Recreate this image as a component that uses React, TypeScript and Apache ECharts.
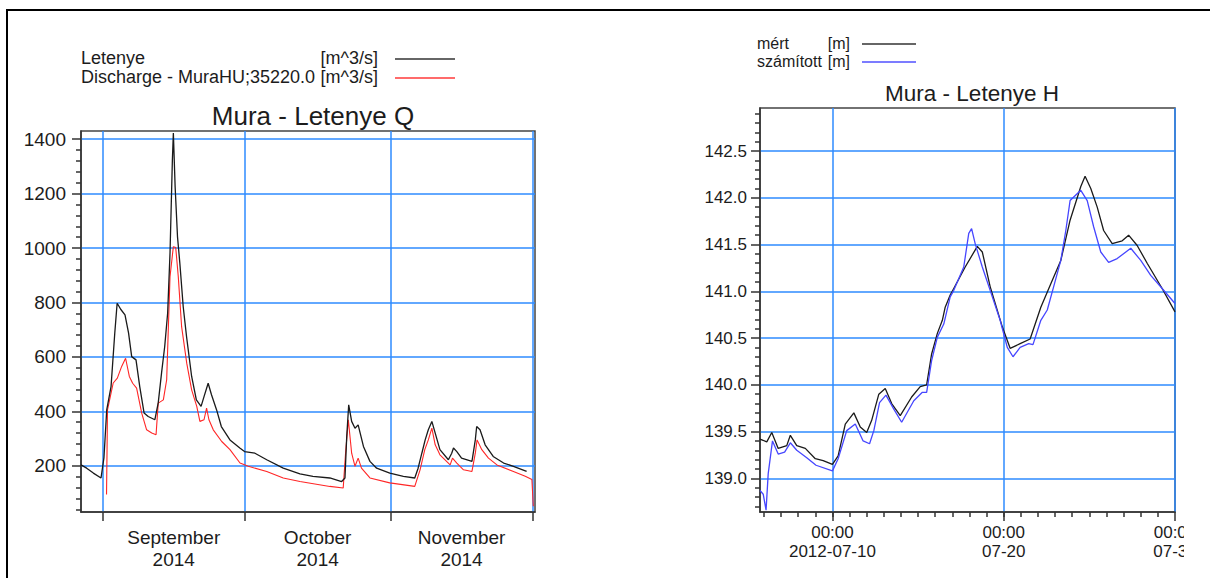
import React, { useEffect, useRef } from 'react';
import * as echarts from 'echarts';

// ---------- Left chart: Mura - Letenye Q ----------
const qRange = ['2014-08-27 08:10', '2014-12-01 13:40'];
const qMonthBounds = ['2014-09-01 00:00', '2014-10-01 00:00', '2014-11-01 00:00', '2014-12-01 00:00'];
const qMonthMids = ['2014-09-16 00:00', '2014-10-16 12:00', '2014-11-16 00:00'];
const qMonthNames = ['September', 'October', 'November'];
const qYear = '2014';
const qMajorTicks = [200, 400, 600, 800, 1000, 1200, 1400];

const qLetenye: [string, number][] = [
  ['2014-08-27 08:10', 203], ['2014-08-28 13:00', 191], ['2014-08-29 23:00', 173], ['2014-08-31 14:00', 155],
  ['2014-09-01 05:00', 230], ['2014-09-01 19:00', 405], ['2014-09-02 17:00', 491], ['2014-09-03 12:00', 688],
  ['2014-09-04 00:00', 797], ['2014-09-04 10:00', 785], ['2014-09-04 18:00', 775], ['2014-09-05 16:00', 754],
  ['2014-09-06 10:00', 688], ['2014-09-07 02:00', 601], ['2014-09-08 00:00', 589], ['2014-09-08 19:00', 491],
  ['2014-09-09 17:00', 394], ['2014-09-10 14:00', 381], ['2014-09-12 00:00', 369], ['2014-09-12 17:00', 431],
  ['2014-09-13 10:00', 541], ['2014-09-14 02:00', 638], ['2014-09-14 17:00', 761], ['2014-09-15 05:00', 982],
  ['2014-09-15 17:00', 1323], ['2014-09-15 22:00', 1423], ['2014-09-16 07:00', 1225], ['2014-09-16 19:00', 1042],
  ['2014-09-17 07:00', 944], ['2014-09-18 00:00', 785], ['2014-09-18 17:00', 675], ['2014-09-19 19:00', 528],
  ['2014-09-20 19:00', 442], ['2014-09-21 19:00', 418], ['2014-09-22 10:00', 454], ['2014-09-23 07:00', 503],
  ['2014-09-24 00:00', 461], ['2014-09-25 02:00', 405], ['2014-09-26 02:00', 344], ['2014-09-27 22:00', 295],
  ['2014-09-30 00:00', 265], ['2014-10-01 00:00', 252], ['2014-10-03 05:00', 246], ['2014-10-05 17:00', 222],
  ['2014-10-09 05:00', 191], ['2014-10-12 18:00', 170], ['2014-10-15 12:00', 161], ['2014-10-19 02:00', 155],
  ['2014-10-21 14:00', 142], ['2014-10-22 07:00', 155], ['2014-10-22 16:00', 308], ['2014-10-23 02:00', 424],
  ['2014-10-23 17:00', 363], ['2014-10-24 10:00', 338], ['2014-10-25 02:00', 350], ['2014-10-26 05:00', 271],
  ['2014-10-27 14:00', 216], ['2014-10-29 00:00', 191], ['2014-10-31 19:00', 173], ['2014-11-03 16:00', 161],
  ['2014-11-06 02:00', 155], ['2014-11-06 19:00', 191], ['2014-11-07 14:00', 246], ['2014-11-08 07:00', 295],
  ['2014-11-08 23:00', 332], ['2014-11-09 17:00', 363], ['2014-11-10 10:00', 320], ['2014-11-11 10:00', 259],
  ['2014-11-13 05:00', 222], ['2014-11-13 22:00', 246], ['2014-11-14 07:00', 265], ['2014-11-15 00:00', 252],
  ['2014-11-16 00:00', 228], ['2014-11-18 05:00', 216], ['2014-11-18 22:00', 295], ['2014-11-19 05:00', 344],
  ['2014-11-19 22:00', 332], ['2014-11-21 00:00', 277], ['2014-11-22 17:00', 234], ['2014-11-24 22:00', 210],
  ['2014-11-27 00:00', 198], ['2014-11-29 19:00', 179],
];

const qMuraHU: [string, number][] = [
  ['2014-09-01 18:00', 94], ['2014-09-01 23:00', 405], ['2014-09-03 04:00', 504], ['2014-09-04 01:00', 522],
  ['2014-09-04 23:00', 565], ['2014-09-05 19:00', 595], ['2014-09-06 14:00', 528], ['2014-09-07 07:00', 503],
  ['2014-09-08 03:00', 485], ['2014-09-09 05:00', 393], ['2014-09-10 06:00', 332], ['2014-09-11 08:00', 320],
  ['2014-09-12 06:00', 314], ['2014-09-12 17:00', 430], ['2014-09-13 19:00', 442], ['2014-09-14 12:00', 516],
  ['2014-09-15 05:00', 895], ['2014-09-15 22:00', 1005], ['2014-09-16 10:00', 1002], ['2014-09-16 23:00', 895],
  ['2014-09-17 16:00', 711], ['2014-09-18 18:00', 577], ['2014-09-19 19:00', 479], ['2014-09-20 21:00', 418],
  ['2014-09-21 13:00', 363], ['2014-09-22 10:00', 369], ['2014-09-22 23:00', 412], ['2014-09-23 11:00', 369],
  ['2014-09-24 09:00', 332], ['2014-09-26 04:00', 289], ['2014-09-27 22:00', 259], ['2014-09-30 01:00', 210],
  ['2014-10-01 19:00', 198], ['2014-10-05 17:00', 179], ['2014-10-09 05:00', 155], ['2014-10-12 18:00', 142],
  ['2014-10-19 02:00', 124], ['2014-10-21 22:00', 118], ['2014-10-22 10:00', 246], ['2014-10-23 00:00', 369],
  ['2014-10-23 17:00', 246], ['2014-10-24 10:00', 198], ['2014-10-25 02:00', 228], ['2014-10-25 19:00', 191],
  ['2014-10-27 14:00', 155], ['2014-10-31 19:00', 137], ['2014-11-06 02:00', 124], ['2014-11-07 05:00', 185],
  ['2014-11-08 05:00', 259], ['2014-11-08 23:00', 295], ['2014-11-09 17:00', 338], ['2014-11-10 10:00', 277],
  ['2014-11-11 10:00', 240], ['2014-11-13 14:00', 203], ['2014-11-14 02:00', 228], ['2014-11-15 00:00', 210],
  ['2014-11-16 10:00', 185], ['2014-11-18 05:00', 179], ['2014-11-18 22:00', 246], ['2014-11-19 07:00', 295],
  ['2014-11-20 07:00', 259], ['2014-11-21 17:00', 228], ['2014-11-23 12:00', 203], ['2014-11-27 00:00', 179],
  ['2014-11-29 12:00', 161], ['2014-11-30 22:00', 149], ['2014-12-01 05:00', 51],
];

// ---------- Right chart: Mura - Letenye H ----------
const hRange = ['2012-07-05 18:30', '2012-07-30 00:00'];
const hMajorDates = ['2012-07-10 00:00', '2012-07-20 00:00', '2012-07-30 00:00'];
const hMajorLabels = ['00:00\n2012-07-10', '00:00\n07-20', '00:00\n07-30'];
const hMajorTicks = [139.0, 139.5, 140.0, 140.5, 141.0, 141.5, 142.0, 142.5];

const hMert: [string, number][] = [
  ['2012-07-05 18:30', 139.42], ['2012-07-06 04:00', 139.39], ['2012-07-06 11:00', 139.49], ['2012-07-06 20:00', 139.32],
  ['2012-07-07 08:00', 139.35], ['2012-07-07 13:00', 139.46], ['2012-07-07 22:00', 139.35], ['2012-07-08 10:00', 139.32],
  ['2012-07-09 00:00', 139.21], ['2012-07-09 11:00', 139.19], ['2012-07-10 00:00', 139.15], ['2012-07-10 08:00', 139.24],
  ['2012-07-10 18:00', 139.58], ['2012-07-11 06:00', 139.70], ['2012-07-11 15:00', 139.55], ['2012-07-12 00:00', 139.49],
  ['2012-07-12 07:00', 139.62], ['2012-07-12 17:00', 139.90], ['2012-07-13 02:00', 139.96], ['2012-07-13 11:00', 139.80],
  ['2012-07-13 23:00', 139.67], ['2012-07-14 15:00', 139.87], ['2012-07-15 03:00', 139.98], ['2012-07-15 12:00', 140.00],
  ['2012-07-15 19:00', 140.33], ['2012-07-16 03:00', 140.55], ['2012-07-16 10:00', 140.69], ['2012-07-16 14:00', 140.83],
  ['2012-07-16 21:00', 140.96], ['2012-07-17 02:00', 141.03], ['2012-07-17 18:00', 141.26], ['2012-07-18 11:00', 141.48],
  ['2012-07-18 18:00', 141.42], ['2012-07-19 05:00', 141.05], ['2012-07-19 22:00', 140.62], ['2012-07-20 09:00', 140.39],
  ['2012-07-20 23:00', 140.44], ['2012-07-21 13:00', 140.49], ['2012-07-22 04:00', 140.83], ['2012-07-22 18:00', 141.08],
  ['2012-07-23 08:00', 141.33], ['2012-07-23 21:00', 141.76], ['2012-07-24 12:00', 142.12], ['2012-07-24 18:00', 142.23],
  ['2012-07-25 02:00', 142.10], ['2012-07-25 11:00', 141.90], ['2012-07-25 20:00', 141.65], ['2012-07-26 08:00', 141.51],
  ['2012-07-26 22:00', 141.54], ['2012-07-27 07:00', 141.60], ['2012-07-27 19:00', 141.49], ['2012-07-28 09:00', 141.30],
  ['2012-07-29 06:00', 141.03], ['2012-07-30 00:00', 140.78],
];

const hSzamitott: [string, number][] = [
  ['2012-07-05 18:30', 138.87], ['2012-07-05 23:00', 138.83], ['2012-07-06 03:00', 138.66], ['2012-07-06 06:00', 139.05],
  ['2012-07-06 12:00', 139.40], ['2012-07-06 20:00', 139.26], ['2012-07-07 05:00', 139.28], ['2012-07-07 13:00', 139.38],
  ['2012-07-07 22:00', 139.30], ['2012-07-08 12:00', 139.22], ['2012-07-09 01:00', 139.14], ['2012-07-10 00:00', 139.08],
  ['2012-07-10 08:00', 139.21], ['2012-07-10 20:00', 139.51], ['2012-07-11 08:00', 139.58], ['2012-07-11 19:00', 139.40],
  ['2012-07-12 04:00', 139.37], ['2012-07-12 10:00', 139.51], ['2012-07-12 18:00', 139.81], ['2012-07-13 03:00', 139.89],
  ['2012-07-13 14:00', 139.74], ['2012-07-14 01:00', 139.60], ['2012-07-14 18:00', 139.83], ['2012-07-15 06:00', 139.92],
  ['2012-07-15 12:00', 139.92], ['2012-07-15 19:00', 140.26], ['2012-07-16 03:00', 140.51], ['2012-07-16 12:00', 140.65],
  ['2012-07-16 21:00', 140.94], ['2012-07-17 02:00', 141.01], ['2012-07-17 16:00', 141.26], ['2012-07-17 23:00', 141.62],
  ['2012-07-18 03:00', 141.67], ['2012-07-18 08:00', 141.51], ['2012-07-18 18:00', 141.26], ['2012-07-19 05:00', 141.01],
  ['2012-07-19 19:00', 140.69], ['2012-07-20 05:00', 140.40], ['2012-07-20 13:00', 140.30], ['2012-07-20 23:00', 140.40],
  ['2012-07-21 11:00', 140.44], ['2012-07-21 17:00', 140.43], ['2012-07-22 04:00', 140.69], ['2012-07-22 13:00', 140.80],
  ['2012-07-22 22:00', 141.05], ['2012-07-23 08:00', 141.33], ['2012-07-23 15:00', 141.65], ['2012-07-23 21:00', 141.97],
  ['2012-07-24 12:00', 142.08], ['2012-07-24 21:00', 141.97], ['2012-07-25 06:00', 141.69], ['2012-07-25 16:00', 141.42],
  ['2012-07-26 03:00', 141.31], ['2012-07-26 15:00', 141.35], ['2012-07-27 10:00', 141.46], ['2012-07-28 00:00', 141.33],
  ['2012-07-28 14:00', 141.17], ['2012-07-29 06:00', 141.03], ['2012-07-30 00:00', 140.87],
];

const toTs = (s: string) => Date.parse(s.replace(' ', 'T') + ':00Z');
const toPairs = (arr: [string, number][]) => arr.map(([t, v]) => [toTs(t), v]);

const FONT = 'Liberation Sans, Arial, sans-serif';
const GRID_BLUE = '#2e8bff';
const AXIS_DARK = '#333333';
const TEXT = '#1c1c1c';

// minor tick positions (axis decoration)
const qMinorTicks: number[] = [];
for (let v = 40; v <= 1420; v += 40) if (v % 200 !== 0) qMinorTicks.push(v);
const hMinorTicks: number[] = [];
for (let k = 1387; k <= 1429; k++) if (k % 5 !== 0) hMinorTicks.push(k / 10);
const hDayTicks: number[] = [];
for (let d = 6; d <= 29; d++) hDayTicks.push(Date.UTC(2012, 6, d));

export default function App() {
  const ref = useRef<HTMLDivElement>(null);

  useEffect(() => {
    if (!ref.current) return;
    const chart = echarts.init(ref.current, undefined, { renderer: 'svg' });

    const qMidTs = qMonthMids.map(toTs);
    const hMajTs = hMajorDates.map(toTs);

    const hiddenAxisBits = {
      axisLine: { show: false },
      axisLabel: { show: false },
      splitLine: { show: false },
    };

    const option: any = {
      animation: false,
      backgroundColor: '#ffffff',
      textStyle: { fontFamily: FONT },
      title: [
        {
          text: 'Mura - Letenye Q',
          left: 308,
          top: 98,
          textAlign: 'center',
          textStyle: { fontFamily: FONT, fontSize: 26, fontWeight: 'normal', color: TEXT },
        },
        {
          text: 'Mura - Letenye H',
          left: 967,
          top: 77,
          textAlign: 'center',
          textStyle: { fontFamily: FONT, fontSize: 22.5, fontWeight: 'normal', color: TEXT },
        },
      ],
      grid: [
        {
          left: 81, top: 131, width: 454, height: 381, show: true, borderColor: '#444', borderWidth: 1.5,
          backgroundColor: 'transparent', containLabel: false, outerBoundsMode: 'none',
        },
        {
          left: 760, top: 108, width: 415, height: 404, show: true, borderColor: '#444', borderWidth: 1.5,
          backgroundColor: 'transparent', containLabel: false, outerBoundsMode: 'none',
        },
      ],
      xAxis: [
        {
          type: 'value',
          gridIndex: 0,
          position: 'bottom',
          min: toTs(qRange[0]),
          max: toTs(qRange[1]),
          axisLine: { show: true, lineStyle: { color: AXIS_DARK, width: 1.5 } },
          axisTick: { show: true, length: 9, customValues: qMonthBounds.map(toTs), lineStyle: { color: AXIS_DARK, width: 1.5 } },
          axisLabel: {
            customValues: qMidTs,
            margin: 14,
            fontFamily: FONT,
            fontSize: 19,
            lineHeight: 22,
            color: TEXT,
            formatter: (v: number) => {
              const i = qMidTs.indexOf(v);
              return (i >= 0 ? qMonthNames[i] : '') + '\n' + qYear;
            },
          },
          splitLine: { show: true, lineStyle: { color: GRID_BLUE, width: 1.5 } },
        },
        {
          type: 'value',
          gridIndex: 1,
          position: 'bottom',
          min: toTs(hRange[0]),
          max: toTs(hRange[1]),
          axisLine: { show: true, lineStyle: { color: AXIS_DARK, width: 1.5 } },
          axisTick: { show: true, length: 9, customValues: hMajTs, lineStyle: { color: AXIS_DARK, width: 1.5 } },
          axisLabel: {
            customValues: hMajTs,
            margin: 11,
            fontFamily: FONT,
            fontSize: 17,
            lineHeight: 19,
            color: TEXT,
            showMaxLabel: true,
            formatter: (v: number) => {
              const i = hMajTs.indexOf(v);
              return i >= 0 ? hMajorLabels[i] : '';
            },
          },
          splitLine: { show: true, lineStyle: { color: GRID_BLUE, width: 1.5 } },
        },
        {
          type: 'value',
          gridIndex: 1,
          position: 'bottom',
          min: toTs(hRange[0]),
          max: toTs(hRange[1]),
          ...hiddenAxisBits,
          axisTick: { show: true, length: 5, customValues: hDayTicks, lineStyle: { color: AXIS_DARK, width: 1.5 } },
        },
      ],
      yAxis: [
        {
          type: 'value',
          gridIndex: 0,
          position: 'left',
          min: 30,
          max: 1430,
          axisLine: { show: true, lineStyle: { color: AXIS_DARK, width: 1.5 } },
          axisTick: { show: true, length: 9, customValues: qMajorTicks, lineStyle: { color: AXIS_DARK, width: 1.5 } },
          axisLabel: {
            customValues: qMajorTicks,
            margin: 15,
            fontFamily: FONT,
            fontSize: 19,
            color: TEXT,
            formatter: (v: number) => String(v),
          },
          splitLine: { show: true, lineStyle: { color: GRID_BLUE, width: 1.5 } },
        },
        {
          type: 'value',
          gridIndex: 0,
          position: 'left',
          min: 30,
          max: 1430,
          ...hiddenAxisBits,
          axisTick: { show: true, length: 5, customValues: qMinorTicks, lineStyle: { color: AXIS_DARK, width: 1.5 } },
        },
        {
          type: 'value',
          gridIndex: 1,
          position: 'left',
          min: 138.64,
          max: 142.96,
          axisLine: { show: true, lineStyle: { color: AXIS_DARK, width: 1.5 } },
          axisTick: { show: true, length: 9, customValues: hMajorTicks, lineStyle: { color: AXIS_DARK, width: 1.5 } },
          axisLabel: {
            customValues: hMajorTicks,
            margin: 13,
            fontFamily: FONT,
            fontSize: 17,
            color: TEXT,
            formatter: (v: number) => v.toFixed(1),
          },
          splitLine: { show: true, lineStyle: { color: GRID_BLUE, width: 1.5 } },
        },
        {
          type: 'value',
          gridIndex: 1,
          position: 'left',
          min: 138.64,
          max: 142.96,
          ...hiddenAxisBits,
          axisTick: { show: true, length: 5, customValues: hMinorTicks, lineStyle: { color: AXIS_DARK, width: 1.5 } },
        },
      ],
      series: [
        {
          name: 'Letenye',
          type: 'line',
          xAxisIndex: 0,
          yAxisIndex: 0,
          data: toPairs(qLetenye),
          showSymbol: false,
          symbol: 'none',
          lineStyle: { color: '#1a1a1a', width: 1.3 },
          z: 3,
        },
        {
          name: 'Discharge - MuraHU;35220.0',
          type: 'line',
          xAxisIndex: 0,
          yAxisIndex: 0,
          data: toPairs(qMuraHU),
          showSymbol: false,
          symbol: 'none',
          lineStyle: { color: '#ff2626', width: 1.1 },
          z: 2,
        },
        {
          name: 'mért',
          type: 'line',
          xAxisIndex: 1,
          yAxisIndex: 2,
          data: toPairs(hMert),
          showSymbol: false,
          symbol: 'none',
          lineStyle: { color: '#1a1a1a', width: 1.3 },
          z: 2,
        },
        {
          name: 'számított',
          type: 'line',
          xAxisIndex: 1,
          yAxisIndex: 2,
          data: toPairs(hSzamitott),
          showSymbol: false,
          symbol: 'none',
          lineStyle: { color: '#4646ff', width: 1.3 },
          z: 3,
        },
      ],
      graphic: [
        // left legend
        { type: 'text', left: 81, top: 49, style: { text: 'Letenye', font: `18px ${FONT}`, fill: TEXT } },
        { type: 'text', right: 1184 - 378, top: 49, style: { text: '[m^3/s]', font: `18px ${FONT}`, fill: TEXT } },
        { type: 'line', shape: { x1: 395, y1: 59, x2: 455, y2: 59 }, style: { stroke: '#333', lineWidth: 1.5 } },
        { type: 'text', left: 81, top: 68, style: { text: 'Discharge - MuraHU;35220.0', font: `18px ${FONT}`, fill: TEXT } },
        { type: 'text', right: 1184 - 378, top: 68, style: { text: '[m^3/s]', font: `18px ${FONT}`, fill: TEXT } },
        { type: 'line', shape: { x1: 395, y1: 78, x2: 455, y2: 78 }, style: { stroke: '#ff3a3a', lineWidth: 1.5 } },
        // right legend
        { type: 'text', left: 757, top: 35, style: { text: 'mért', font: `16px ${FONT}`, fill: TEXT } },
        { type: 'text', right: 1184 - 850, top: 35, style: { text: '[m]', font: `16px ${FONT}`, fill: TEXT } },
        { type: 'line', shape: { x1: 862, y1: 44, x2: 916, y2: 44 }, style: { stroke: '#333', lineWidth: 1.5 } },
        { type: 'text', left: 757, top: 53, style: { text: 'számított', font: `16px ${FONT}`, fill: TEXT } },
        { type: 'text', right: 1184 - 850, top: 53, style: { text: '[m]', font: `16px ${FONT}`, fill: TEXT } },
        { type: 'line', shape: { x1: 862, y1: 62, x2: 916, y2: 62 }, style: { stroke: '#5050ff', lineWidth: 1.5 } },
      ],
    };

    chart.setOption(option);
    return () => chart.dispose();
  }, []);

  return (
    <div style={{ position: 'fixed', left: 0, top: 0, width: 1210, height: 578, background: '#fff', overflow: 'hidden' }}>
      <div ref={ref} style={{ position: 'absolute', left: 0, top: 0, width: 1184, height: 578 }} />
      <div
        style={{
          position: 'absolute',
          left: 6,
          top: 9,
          width: 1210,
          height: 600,
          borderTop: '2px solid #000',
          borderLeft: '2px solid #000',
          pointerEvents: 'none',
        }}
      />
    </div>
  );
}
